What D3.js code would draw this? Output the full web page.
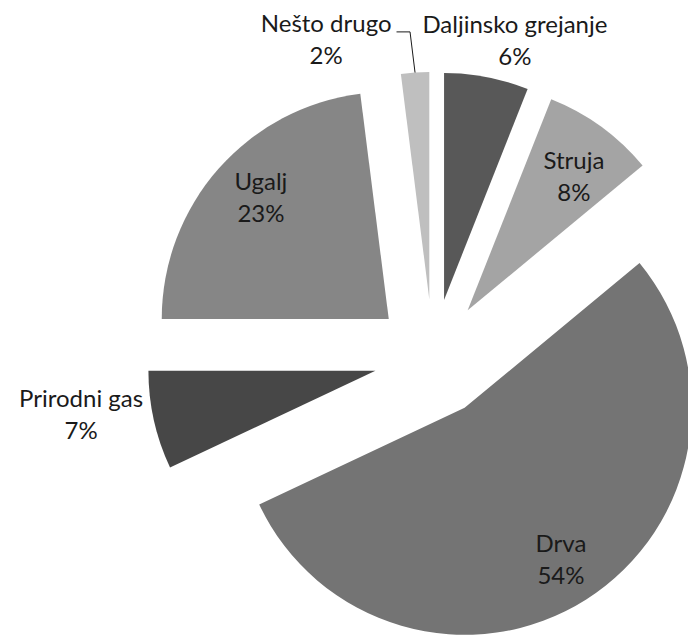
<!DOCTYPE html>
<html>
<head>
<meta charset="utf-8">
<script src="https://cdn.jsdelivr.net/npm/d3@7"></script>
<style>
  html, body { margin: 0; padding: 0; background: #fff; }
  svg { display: block; }
  text { font-family: Lato, "Open Sans", sans-serif; fill: #1a1a1a; }
</style>
</head>
<body>
<svg id="chart" width="688" height="636"></svg>
<script>
// Heating sources (share of households, %)
const categories = ["Daljinsko grejanje", "Struja", "Drva", "Prirodni gas", "Ugalj", "Nešto drugo"];
const values = [6, 8, 54, 7, 23, 2];
const sliceColors = ["#585858", "#a4a4a4", "#747474", "#474747", "#868686", "#bfbfbf"];

const data = categories.map((c, i) => ({ name: c, value: values[i], color: sliceColors[i] }));

// Geometry of the exploded pie
const W = 688, H = 636;
const cx = 433, cy = 358;
const R = 227;
const explode = 59;

// Label placement relative to each exploded slice: radius as a fraction of R, angle in degrees
const labelPlacement = {
  "Daljinsko grejanje": { r: 1.183, deg: 15.3 },
  "Struja":             { r: 0.75,  deg: 38.6 },
  "Drva":               { r: 0.794, deg: 147.7 },
  "Prirodni gas":       { r: 1.311, deg: 261.5 },
  "Ugalj":              { r: 0.775, deg: 313.4 },
  "Nešto drugo":        { r: 1.229, deg: 338.3 }
};
const withLeader = new Set(["Nešto drugo"]);

const svg = d3.select("#chart");
svg.append("rect").attr("width", W).attr("height", H).attr("fill", "#fff");

const pie = d3.pie().sort(null).value(d => d.value).startAngle(0).endAngle(2 * Math.PI);
const arc = d3.arc().innerRadius(0).outerRadius(R);
const arcs = pie(data);

const polar = (r, a) => [r * Math.sin(a), -r * Math.cos(a)];

const g = svg.append("g").attr("transform", `translate(${cx},${cy})`);

const slice = g.selectAll("g.slice")
  .data(arcs)
  .join("g")
  .attr("class", "slice")
  .attr("transform", d => {
    const mid = (d.startAngle + d.endAngle) / 2;
    const [dx, dy] = polar(explode, mid);
    return `translate(${dx},${dy})`;
  });

slice.append("path")
  .attr("d", arc)
  .attr("fill", d => d.data.color);

// Labels: name on the first line, percentage on the second
const lineGap = 32;
const capHalf = 8;

slice.each(function(d) {
  const sel = d3.select(this);
  const p = labelPlacement[d.data.name];
  const [lx, ly] = polar(p.r * R, p.deg * Math.PI / 180);
  const fmt = d3.format(".0f");

  const t = sel.append("text")
    .attr("text-anchor", "middle")
    .style("font-size", "24px");
  t.append("tspan").attr("x", lx).attr("y", ly - lineGap / 2 + capHalf).text(d.data.name);
  t.append("tspan").attr("x", lx).attr("y", ly + lineGap / 2 + capHalf).text(fmt(d.value) + "%");

  if (withLeader.has(d.data.name)) {
    const mid = (d.startAngle + d.endAngle) / 2;
    const [ox, oy] = polar(R, mid);
    const w = t.select("tspan").node().getComputedTextLength();
    const yLine = ly - lineGap / 2 + capHalf;
    sel.append("polyline")
      .attr("points", [[ox, oy], [ox - 5, yLine], [lx + w / 2 + 5, yLine]].map(q => q.join(",")).join(" "))
      .attr("fill", "none")
      .attr("stroke", "#1a1a1a")
      .attr("stroke-width", 1);
  }
});
</script>
</body>
</html>
